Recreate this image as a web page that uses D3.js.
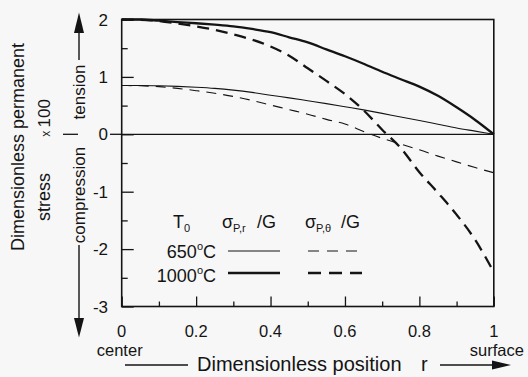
<!DOCTYPE html>
<html>
<head>
<meta charset="utf-8">
<script src="https://cdn.jsdelivr.net/npm/d3@7"></script>
<style>
  html, body { margin: 0; padding: 0; background: #f7f7f7; }
  svg { display: block; }
  text { font-family: "Liberation Sans", Arial, sans-serif; fill: #141414; }
</style>
</head>
<body>
<svg id="chart" width="528" height="377"></svg>
<script>
// dimensionless position r (0 = center, 1 = surface)
var rPos = [0, 0.05, 0.1, 0.15, 0.2, 0.25, 0.3, 0.35, 0.4, 0.45, 0.5,
            0.55, 0.6, 0.65, 0.7, 0.75, 0.8, 0.85, 0.9, 0.95, 1];

// stress x 100
var sigR650   = [0.85, 0.85, 0.845, 0.835, 0.82, 0.80, 0.77, 0.73, 0.68, 0.635, 0.585,
                 0.535, 0.48, 0.425, 0.365, 0.30, 0.24, 0.175, 0.11, 0.055, 0];
var sigT650   = [0.85, 0.845, 0.83, 0.80, 0.76, 0.715, 0.66, 0.59, 0.51, 0.43, 0.35,
                 0.26, 0.18, 0.05, -0.07, -0.17, -0.27, -0.38, -0.48, -0.58, -0.67];
var sigR1000  = [2.0, 2.0, 1.98, 1.955, 1.935, 1.91, 1.88, 1.835, 1.78, 1.69, 1.60,
                 1.48, 1.36, 1.23, 1.09, 0.96, 0.83, 0.67, 0.47, 0.25, 0];
var sigT1000  = [2.0, 1.995, 1.975, 1.93, 1.88, 1.82, 1.74, 1.65, 1.53, 1.37, 1.15,
                 0.93, 0.70, 0.42, 0.08, -0.24, -0.66, -1.02, -1.40, -1.84, -2.40];

var xTicks = [0, 0.2, 0.4, 0.6, 0.8, 1];
var xMinor = [0.1, 0.3, 0.5, 0.7, 0.9];
var yTicks = [2, 1, 0, -1, -2, -3];
var yMinor = [1.5, 0.5, -0.5, -1.5, -2.5];

var series = [
  {name: "sr650",  values: sigR650,  width: 1.1, dash: null},
  {name: "st650",  values: sigT650,  width: 1.1, dash: "10,7"},
  {name: "sr1000", values: sigR1000, width: 2.3, dash: null},
  {name: "st1000", values: sigT1000, width: 2.3, dash: "12,7"}
];

var ink = "#141414";
var svg = d3.select("#chart");

var xScale = d3.scaleLinear().domain([0, 1]).range([121.7, 493.8]);
var yScale = d3.scaleLinear().domain([-3, 2]).range([306.5, 19.5]);

// frame
svg.append("rect")
  .attr("x", xScale(0)).attr("y", yScale(2))
  .attr("width", xScale(1) - xScale(0)).attr("height", yScale(-3) - yScale(2))
  .attr("fill", "none").attr("stroke", ink).attr("stroke-width", 1.6);

// zero line
svg.append("line")
  .attr("x1", xScale(0)).attr("x2", xScale(1))
  .attr("y1", yScale(0)).attr("y2", yScale(0))
  .attr("stroke", ink).attr("stroke-width", 1.3);

// y axis: inward ticks
var gY = svg.append("g").attr("transform", "translate(" + xScale(0) + ",0)");
gY.call(d3.axisRight(yScale).tickValues(yTicks).tickSize(12).tickFormat(""));
gY.append("g").call(d3.axisRight(yScale).tickValues(yMinor).tickSize(6).tickFormat(""));
gY.selectAll(".domain").remove();
gY.selectAll("line").attr("stroke", ink).attr("stroke-width", 1.3);

svg.append("g").selectAll("text").data(yTicks).join("text")
  .attr("x", 108).attr("y", d => yScale(d)).attr("dy", "0.36em")
  .attr("text-anchor", "end").attr("font-size", 17)
  .text(d => d);

// outward tick at zero
svg.append("line")
  .attr("x1", 110).attr("x2", xScale(0))
  .attr("y1", yScale(0)).attr("y2", yScale(0))
  .attr("stroke", ink).attr("stroke-width", 1.3);

// x axis: inward ticks
var gX = svg.append("g").attr("transform", "translate(0," + yScale(-3) + ")");
gX.call(d3.axisTop(xScale).tickValues(xTicks).tickSize(10).tickFormat(""));
gX.append("g").call(d3.axisTop(xScale).tickValues(xMinor).tickSize(5).tickFormat(""));
gX.selectAll(".domain").remove();
gX.selectAll("line").attr("stroke", ink).attr("stroke-width", 1.3);

svg.append("g").selectAll("text").data(xTicks).join("text")
  .attr("x", d => xScale(d)).attr("y", 337)
  .attr("text-anchor", "middle").attr("font-size", 16.5)
  .text(d => d);

svg.append("text").attr("x", xScale(0) - 2).attr("y", 356)
  .attr("text-anchor", "middle").attr("font-size", 16.5).text("center");
svg.append("text").attr("x", xScale(1) + 3).attr("y", 356)
  .attr("text-anchor", "middle").attr("font-size", 16.5).text("surface");

// curves
var lineGen = d3.line()
  .x((d, i) => xScale(rPos[i]))
  .y(d => yScale(d))
  .curve(d3.curveMonotoneX);

svg.append("g").selectAll("path").data(series).join("path")
  .attr("d", d => lineGen(d.values))
  .attr("fill", "none")
  .attr("stroke", ink)
  .attr("stroke-width", d => d.width)
  .attr("stroke-dasharray", d => d.dash);

// legend
var leg = svg.append("g").attr("font-size", 18);
var t0 = leg.append("text").attr("x", 173).attr("y", 228);
t0.append("tspan").text("T");
t0.append("tspan").attr("font-size", 11).attr("dy", 4).text("0");

var s1 = leg.append("text").attr("x", 222).attr("y", 228);
s1.append("tspan").text("σ");
s1.append("tspan").attr("font-size", 11).attr("dy", 4).text("P,r");
leg.append("text").attr("x", 257).attr("y", 228).text("/G");

var s2 = leg.append("text").attr("x", 305).attr("y", 228);
s2.append("tspan").text("σ");
s2.append("tspan").attr("font-size", 11).attr("dy", 4).text("P,θ");
leg.append("text").attr("x", 341).attr("y", 228).text("/G");

var tempRows = [
  {label: "650", y: 258, line: 251, r: series[0], t: series[1]},
  {label: "1000", y: 282, line: 273, r: series[2], t: series[3]}
];
tempRows.forEach(function(row) {
  var tx = leg.append("text").attr("x", 216).attr("y", row.y).attr("text-anchor", "end");
  tx.append("tspan").text(row.label);
  tx.append("tspan").attr("font-size", 11).attr("dy", -8).text("o");
  tx.append("tspan").attr("dy", 8).text("C");
  leg.append("line").attr("x1", 228).attr("x2", 280).attr("y1", row.line).attr("y2", row.line)
    .attr("stroke", ink).attr("stroke-width", row.r.width);
  leg.append("line").attr("x1", 308).attr("x2", 362).attr("y1", row.line).attr("y2", row.line)
    .attr("stroke", ink).attr("stroke-width", row.t.width)
    .attr("stroke-dasharray", row.t.width > 2 ? "13,8" : "11,8");
});

// y title
svg.append("text").attr("transform", "translate(23.5,147) rotate(-90)")
  .attr("text-anchor", "middle").attr("font-size", 18).text("Dimensionless permanent");
svg.append("text").attr("transform", "translate(50,197) rotate(-90)")
  .attr("text-anchor", "middle").attr("font-size", 18).text("stress");
var x100 = svg.append("text").attr("transform", "translate(50,118) rotate(-90)")
  .attr("text-anchor", "middle");
x100.append("tspan").attr("font-size", 12).text("x ");
x100.append("tspan").attr("font-size", 17).text("100");

// tension / compression arrows
var ax = 79;
svg.append("line").attr("x1", ax).attr("x2", ax).attr("y1", 32).attr("y2", 60)
  .attr("stroke", ink).attr("stroke-width", 1.4);
svg.append("path").attr("d", d3.line()([[ax, 12.5], [ax - 5, 33], [ax + 5, 33]]) + "Z").attr("fill", ink);
svg.append("text").attr("transform", "translate(84.5,92) rotate(-90)")
  .attr("text-anchor", "middle").attr("font-size", 17).text("tension");
svg.append("line").attr("x1", 63).attr("x2", 78).attr("y1", yScale(0)).attr("y2", yScale(0))
  .attr("stroke", ink).attr("stroke-width", 1.3);
svg.append("text").attr("transform", "translate(84.5,195) rotate(-90)")
  .attr("text-anchor", "middle").attr("font-size", 17).text("compression");
svg.append("line").attr("x1", ax).attr("x2", ax).attr("y1", 245).attr("y2", 321)
  .attr("stroke", ink).attr("stroke-width", 1.4);
svg.append("path").attr("d", d3.line()([[ax, 337.5], [ax - 5, 318], [ax + 5, 318]]) + "Z").attr("fill", ink);

// x title
svg.append("text").attr("x", 197).attr("y", 371).attr("font-size", 20).text("Dimensionless position");
svg.append("text").attr("x", 421).attr("y", 371).attr("font-size", 20).text("r");
svg.append("line").attr("x1", 125).attr("x2", 188).attr("y1", 365).attr("y2", 365)
  .attr("stroke", ink).attr("stroke-width", 1.4);
svg.append("line").attr("x1", 440).attr("x2", 496).attr("y1", 365).attr("y2", 365)
  .attr("stroke", ink).attr("stroke-width", 1.4);
svg.append("path").attr("d", d3.line()([[511, 365], [492, 360.5], [492, 369.5]]) + "Z").attr("fill", ink);
</script>
</body>
</html>
